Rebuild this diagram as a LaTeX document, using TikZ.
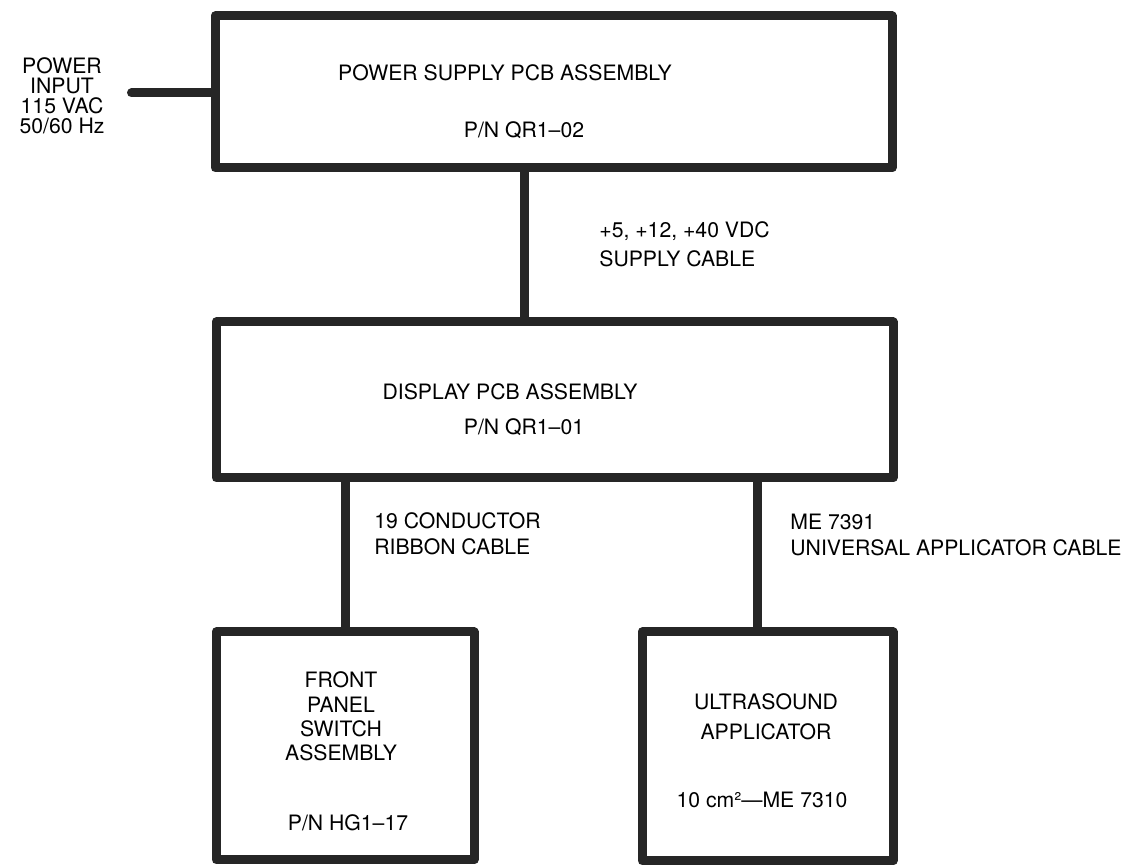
\documentclass[tikz,border=0pt]{standalone}
\usepackage{fontspec}
\setmainfont{TeX Gyre Heros}

\begin{document}
\begin{tikzpicture}[x=0.5pt, y=-0.5pt,
    box/.style={draw=black!85, line width=4.5pt, line join=round, inner sep=0pt},
    link/.style={draw=black!85, line width=4.5pt},
    txt/.style={font=\fontsize{10.6}{12.2}\selectfont, align=center, inner sep=0pt, anchor=base},
    cable/.style={font=\fontsize{10.6}{13}\selectfont, align=left, inner sep=0pt, anchor=base west}]

    \useasboundingbox (0,0) rectangle (1137,865);

    % Power supply board
    \node[box, minimum width=338.5pt, minimum height=76pt] (psu) at (553.5,92) {};
    \node[txt] (psutitle) at (505,81) {POWER SUPPLY PCB ASSEMBLY};
    \node[txt] (psupn) at (524,138) {P/N QR1–02};

    % Mains input (base = last line)
    \node[txt, font=\fontsize{10.6}{10}\selectfont] (mains) at (62,134) {POWER\\INPUT\\115 VAC\\50/60 Hz};
    \coordinate (acin) at (131.5,93);
    \draw[link, line cap=round] (acin) -- (acin -| psu.west);

    % Display board
    \node[box, minimum width=338.5pt, minimum height=78pt] (disp) at (554.5,400) {};
    \node[txt] (disptitle) at (510,400) {DISPLAY PCB ASSEMBLY};
    \node[txt] (disppn) at (524,435) {P/N QR1–01};

    \coordinate (supplytap) at (524,0);
    \draw[link] (psu.south -| supplytap) -- (disp.north -| supplytap);
    \node[cable] (supplylbl) at (599,267) {+5, +12, +40 VDC\\[1.5pt]SUPPLY CABLE};

    % Front panel
    \node[box, minimum width=129pt, minimum height=114pt] (front) at (345,746) {};
    \node[txt] (fronttitle) at (341,761) {FRONT\\PANEL\\SWITCH\\ASSEMBLY};
    \node[txt] (frontpn) at (348,831) {P/N HG1–17};

    \draw[link] (disp.south -| front.north) -- (front.north);
    \node[cable] (ribbonlbl) at (374,555) {19 CONDUCTOR\\RIBBON CABLE};

    % Applicator
    \node[box, minimum width=125.5pt, minimum height=114.5pt] (ultra) at (767.5,746.5) {};
    \node[txt] (ultratitle) at (766,740) {ULTRASOUND\\[2.8pt]APPLICATOR};
    \node[txt] (ultrapn) at (762,808) {10 cm²—ME 7310};

    \coordinate (apptap) at (757,0);
    \draw[link] (disp.south -| apptap) -- (ultra.north -| apptap);
    \node[cable] (applbl) at (790,556) {ME 7391\\UNIVERSAL APPLICATOR CABLE};

\end{tikzpicture}
\end{document}
